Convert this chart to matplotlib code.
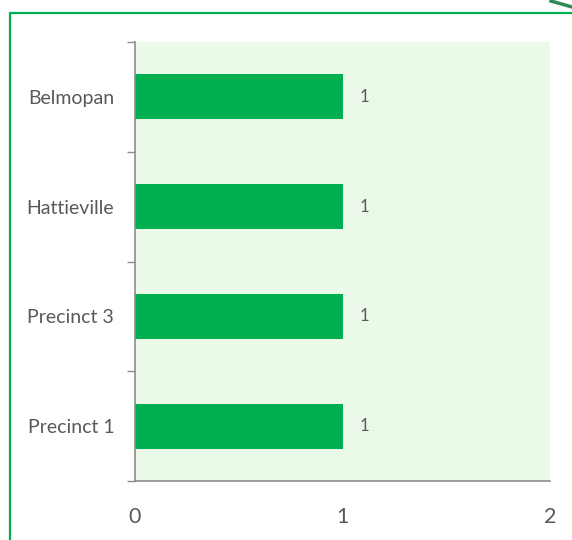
import matplotlib
matplotlib.use("Agg")
import matplotlib.pyplot as plt
from matplotlib.patches import Rectangle
from matplotlib.lines import Line2D

categories = ["Precinct 1", "Precinct 3", "Hattieville", "Belmopan"]
values = [1, 1, 1, 1]
x_ticks = [0, 1, 2]

plt.rcParams['font.family'] = ['Lato', 'DejaVu Sans']
text_color = "#595959"
bar_color = "#00B050"

fig = plt.figure(figsize=(5.72, 5.40), dpi=100)
W, H = 572, 540
ax = fig.add_axes([135 / W, 1 - 481 / H, (550 - 135) / W, (481 - 42) / H])
ax.set_facecolor("#EBF9E8")

pos = list(range(len(categories)))
bars = ax.barh(pos, values, height=0.41, color=bar_color, zorder=2)
for p, v in zip(pos, values):
    ax.text(v + 0.08, p, str(v), va="center", ha="left", fontsize=12, color=text_color)

ax.set_xlim(0, 2)
ax.set_ylim(-0.5, len(categories) - 0.5)
ax.set_xticks(x_ticks)
ax.set_xticklabels([str(t) for t in x_ticks], fontsize=15.5, color=text_color)
ax.tick_params(axis="x", length=0, pad=19)
ax.set_yticks(pos)
ax.set_yticklabels(categories, fontsize=14, color=text_color)
ax.tick_params(axis="y", which="major", length=0, pad=15)
ax.set_yticks([p - 0.5 for p in pos] + [len(categories) - 0.5], minor=True)
ax.tick_params(axis="y", which="minor", length=6, color="#8c8c8c", width=1)

for s in ["top", "right"]:
    ax.spines[s].set_visible(False)
for s in ["left", "bottom"]:
    ax.spines[s].set_color("#8c8c8c")
    ax.spines[s].set_linewidth(1.2)
ax.spines["bottom"].set_bounds(0, 2)

# outer green border
fig.patches.append(Rectangle((10 / W, -0.05), 1.2, 1 - 13 / H + 0.05,
                             transform=fig.transFigure, fill=False,
                             edgecolor=bar_color, linewidth=1.6))
fig.lines.append(Line2D([551 / W, 572 / W], [1 - 1 / H, 1 - 7 / H],
                        transform=fig.transFigure, color="#2E8B57", linewidth=2.5))

fig.savefig("out.png", dpi=100)
